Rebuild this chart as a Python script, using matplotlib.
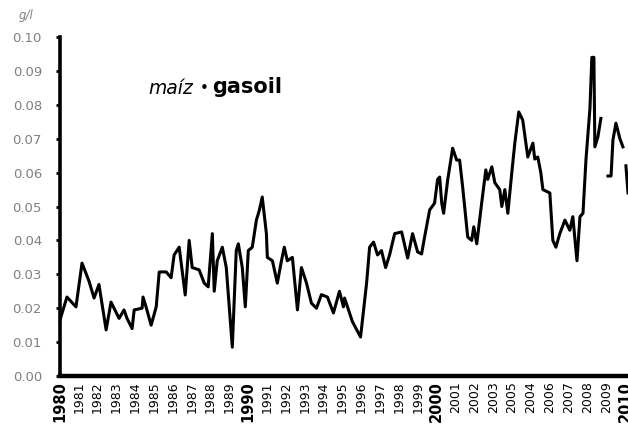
import numpy as np
import matplotlib
matplotlib.use("Agg")
import matplotlib.pyplot as plt

# maize / diesel price ratio (g/l); NaN = gap in the series
years = [1980.0, 1980.37, 1980.85, 1981.17, 1981.54, 1981.81, 1982.07, 1982.45, 1982.71,
         1983.14, 1983.40, 1983.56, 1983.83, 1983.94, 1984.36, 1984.41, 1984.57, 1984.84,
         1985.11, 1985.27, 1985.64, 1985.90, 1986.06, 1986.33, 1986.65, 1986.86, 1987.02,
         1987.39, 1987.66, 1987.87, 1988.09, 1988.19, 1988.35, 1988.62, 1988.83, 1989.15,
         1989.36, 1989.47, 1989.68, 1989.84, 1990.00, 1990.21, 1990.43, 1990.59, 1990.74,
         1990.96, 1991.01, 1991.28, 1991.54, 1991.76, 1991.91, 1992.07, 1992.34, 1992.61,
         1992.82, 1993.09, 1993.35, 1993.62, 1993.88, 1994.20, 1994.52, 1994.84, 1995.05,
         1995.11, 1995.53, 1995.96, 1996.28, 1996.44, 1996.65, 1996.86, 1997.07, 1997.29,
         1997.50, 1997.77, 1998.14, 1998.46, 1998.72, 1998.99, 1999.20, 1999.36, 1999.63,
         1999.89, 2000.05, 2000.16, 2000.27, 2000.37, 2000.59, 2000.85, 2001.06, 2001.22,
         2001.38, 2001.65, 2001.86, 2001.97, 2002.13, 2002.39, 2002.61, 2002.71, 2002.93,
         2003.09, 2003.35, 2003.46, 2003.62, 2003.78, 2003.99, 2004.15, 2004.36, 2004.57,
         2004.84, 2005.11, 2005.21, 2005.37, 2005.53, 2005.64, 2006.01, 2006.17, 2006.33,
         2006.54, 2006.81, 2007.07, 2007.23, 2007.45, 2007.61, 2007.77, 2007.93, 2008.14,
         2008.24, 2008.35, 2008.40, 2008.56, 2008.72, 2008.90,
         2009.10, 2009.26, 2009.36, 2009.52, 2009.73, 2009.89, 2009.97,
         2010.05, 2010.16]
ratio = [0.0165, 0.0233, 0.0204, 0.0333, 0.0280, 0.0230, 0.0270, 0.0136, 0.0218,
         0.0170, 0.0195, 0.0170, 0.0140, 0.0195, 0.0200, 0.0233, 0.0204, 0.0150,
         0.0204, 0.0307, 0.0307, 0.0290, 0.0357, 0.0380, 0.0239, 0.0400, 0.0320,
         0.0313, 0.0274, 0.0263, 0.0420, 0.0250, 0.0340, 0.0380, 0.0320, 0.0085,
         0.0370, 0.0390, 0.0320, 0.0204, 0.0370, 0.0380, 0.0460, 0.0490, 0.0528,
         0.0420, 0.0350, 0.0340, 0.0274, 0.0340, 0.0380, 0.0340, 0.0350, 0.0195,
         0.0320, 0.0274, 0.0215, 0.0200, 0.0240, 0.0233, 0.0186, 0.0250, 0.0204,
         0.0230, 0.0160, 0.0115, 0.0274, 0.0380, 0.0395, 0.0357, 0.0370, 0.0320,
         0.0357, 0.0420, 0.0425, 0.0348, 0.0420, 0.0366, 0.0360, 0.0410, 0.0490,
         0.0510, 0.0580, 0.0587, 0.0510, 0.0480, 0.0580, 0.0672, 0.0637, 0.0637,
         0.0558, 0.0410, 0.0400, 0.0440, 0.0390, 0.0510, 0.0608, 0.0580, 0.0617,
         0.0570, 0.0550, 0.0500, 0.0550, 0.0480, 0.0600, 0.0687, 0.0779, 0.0755,
         0.0646, 0.0687, 0.0640, 0.0646, 0.0600, 0.0550, 0.0540, 0.0400, 0.0380,
         0.0420, 0.0460, 0.0430, 0.0470, 0.0340, 0.0470, 0.0480, 0.0640, 0.0790,
         0.0940, 0.0940, 0.0676, 0.0705, 0.0760, np.nan,
         0.0590, 0.0590, 0.0696, 0.0746, 0.0700, 0.0676, np.nan,
         0.0620, 0.0540]

tick_years = list(range(1980, 2011))
tick_text = [str(y) for y in tick_years]
tick_text[24], tick_text[25] = "2005", "2004"   # as printed in the original
bold_years = {1980, 1990, 2000, 2010}

yticks = [0.00, 0.01, 0.02, 0.03, 0.04, 0.05, 0.06, 0.07, 0.08, 0.09, 0.10]

fig = plt.figure(figsize=(6.28, 4.34), dpi=100)
ax = fig.add_axes([0.0955, 0.1336, 0.9045, 0.7811])

ax.plot(years, ratio, color="black", lw=2.2, solid_joinstyle="round")

ax.set_xlim(1980, 2010.16)
ax.set_ylim(0, 0.10)
for s in ["top", "right"]:
    ax.spines[s].set_visible(False)
ax.spines["left"].set_linewidth(2.6)
ax.spines["bottom"].set_linewidth(3.2)

ax.set_yticks(yticks)
ax.set_yticklabels([f"{v:.2f}" for v in yticks])
ax.tick_params(axis="y", length=3, width=2, colors="black", labelcolor="#808080",
               labelsize=9.5, pad=10)
ax.set_xticks(tick_years)
ax.set_xticklabels(tick_text, rotation=90)
ax.tick_params(axis="x", length=0, labelsize=9, pad=4)
for lab, y in zip(ax.get_xticklabels(), tick_years):
    if y in bold_years:
        lab.set_fontweight("bold")
        lab.set_fontsize(10.5)

fig.text(0.030, 0.965, "g/l", fontsize=8.5, style="italic", color="#808080",
         ha="left", va="center")
fig.text(0.236, 0.797, "maíz", fontsize=13.5, style="italic", ha="left", va="center")
fig.text(0.318, 0.795, "•", fontsize=11, ha="left", va="center")
fig.text(0.337, 0.799, "gasoil", fontsize=15, fontweight="bold", ha="left",
         va="center")

fig.savefig("out.png", dpi=100)
